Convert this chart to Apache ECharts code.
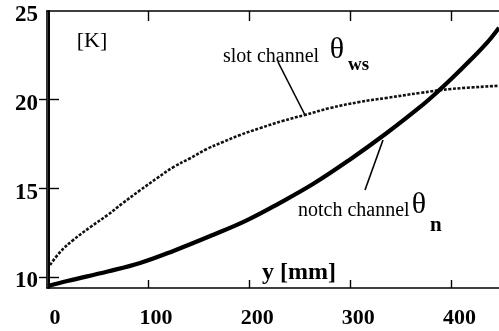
<!DOCTYPE html>
<html><head><meta charset="utf-8">
<script src="https://cdn.jsdelivr.net/npm/echarts@6/dist/echarts.min.js"></script>
<style>html,body{margin:0;padding:0;background:#fff}#c{width:499px;height:331px}</style>
</head><body><div id="c"></div>
<script>
// notch channel theta_n (solid thick)
const notchX = [1, 20, 60, 92, 125, 164, 198, 230, 263, 299, 336, 369, 385, 401, 418, 435, 447];
const notchY = [9.49, 9.77, 10.31, 10.79, 11.47, 12.37, 13.21, 14.17, 15.24, 16.60, 18.12, 19.59, 20.38, 21.23, 22.19, 23.20, 24.06];
// slot channel theta_ws (dotted)
const slotX = [3, 13, 26, 43, 60, 75, 92, 109, 125, 142, 158, 174, 191, 211, 233, 255, 280, 309, 336, 369, 401, 447];
const slotY = [10.68, 11.41, 12.09, 12.82, 13.50, 14.17, 14.89, 15.58, 16.20, 16.71, 17.22, 17.61, 18.01, 18.40, 18.80, 19.14, 19.53, 19.87, 20.10, 20.38, 20.61, 20.78];
const xLabels = [0, 100, 200, 300, 400];
const xTicks = [100, 200, 300, 400];
const yLabels = [10, 15, 20, 25];
const yTicks = [10, 15, 20];

const FONT = '"Liberation Serif", "Times New Roman", serif';
const chart = echarts.init(document.getElementById('c'), null, {renderer: 'canvas'});
const zip = (xs, ys) => xs.map((x, i) => [x, ys[i]]);

const axisLine = {show: true, lineStyle: {color: '#000', width: 1.6}};
chart.setOption({
  animation: false,
  backgroundColor: '#fff',
  grid: {left: 47, top: 11, width: 453, height: 277, containLabel: false},
  xAxis: [
    {type: 'value', position: 'bottom', min: 0, max: 447,
     axisLine: axisLine,
     axisTick: {show: true, inside: true, length: 8, customValues: xTicks, lineStyle: {color: '#000', width: 1.4}},
     axisLabel: {show: true, customValues: xLabels, margin: 19, padding: [0, 0, 0, 16],
                 fontFamily: FONT, fontWeight: 'bold', fontSize: 22, color: '#000'},
     splitLine: {show: false}},
    {type: 'value', position: 'top', min: 0, max: 447,
     axisLine: axisLine,
     axisTick: {show: true, inside: true, length: 10, customValues: xTicks, lineStyle: {color: '#000', width: 1.4}},
     axisLabel: {show: false}, splitLine: {show: false}}
  ],
  yAxis: [
    {type: 'value', position: 'left', min: 9.38, max: 25, offset: -2,
     axisLine: {show: true, lineStyle: {color: '#000', width: 2}},
     axisTick: {show: true, inside: true, length: 10, customValues: yTicks, lineStyle: {color: '#000', width: 1.4}},
     axisLabel: {show: true, customValues: yLabels, margin: 11, verticalAlign: 'top', lineHeight: 9,
                 fontFamily: FONT, fontWeight: 'bold', fontSize: 23, color: '#000'},
     splitLine: {show: false}},
    {type: 'value', position: 'right', min: 9.38, max: 25,
     axisLine: axisLine,
     axisTick: {show: true, inside: true, length: 8, customValues: yTicks, lineStyle: {color: '#000', width: 1.4}},
     axisLabel: {show: false}, splitLine: {show: false}}
  ],
  series: [
    {name: 'slot channel', type: 'line', xAxisIndex: 0, yAxisIndex: 0, data: zip(slotX, slotY),
     smooth: 0.4, showSymbol: false, lineStyle: {color: '#111', width: 2.6, type: [3, 1.6]}},
    {name: 'notch channel', type: 'line', xAxisIndex: 0, yAxisIndex: 0, data: zip(notchX, notchY),
     smooth: 0.4, showSymbol: false, lineStyle: {color: '#000', width: 4.2}}
  ],
  graphic: [
    {type: 'text', style: {text: '[K]', x: 92, y: 41, align: 'center', verticalAlign: 'middle', font: '22px ' + FONT, fill: '#000'}},
    {type: 'text', style: {text: 'slot channel', x: 223, y: 57, align: 'left', verticalAlign: 'middle', font: '20px ' + FONT, fill: '#000'}},
    {type: 'text', style: {text: 'θ', x: 337, y: 50, align: 'center', verticalAlign: 'middle', font: '30px ' + FONT, fill: '#000'}},
    {type: 'text', style: {text: 'ws', x: 348, y: 65, align: 'left', verticalAlign: 'middle', font: 'bold 19px ' + FONT, fill: '#000'}},
    {type: 'line', shape: {x1: 278, y1: 62, x2: 305, y2: 115}, style: {stroke: '#000', lineWidth: 1.6}},
    {type: 'text', style: {text: 'notch channel', x: 298, y: 211, align: 'left', verticalAlign: 'middle', font: '20px ' + FONT, fill: '#000'}},
    {type: 'text', style: {text: 'θ', x: 419, y: 205, align: 'center', verticalAlign: 'middle', font: '30px ' + FONT, fill: '#000'}},
    {type: 'text', style: {text: 'n', x: 430, y: 226, align: 'left', verticalAlign: 'middle', font: 'bold 21px ' + FONT, fill: '#000'}},
    {type: 'line', shape: {x1: 383, y1: 140, x2: 365, y2: 190}, style: {stroke: '#000', lineWidth: 1.6}},
    {type: 'text', style: {text: 'y [mm]', x: 299, y: 273, align: 'center', verticalAlign: 'middle', font: 'bold 24px ' + FONT, fill: '#000'}}
  ]
});
</script>
</body></html>
